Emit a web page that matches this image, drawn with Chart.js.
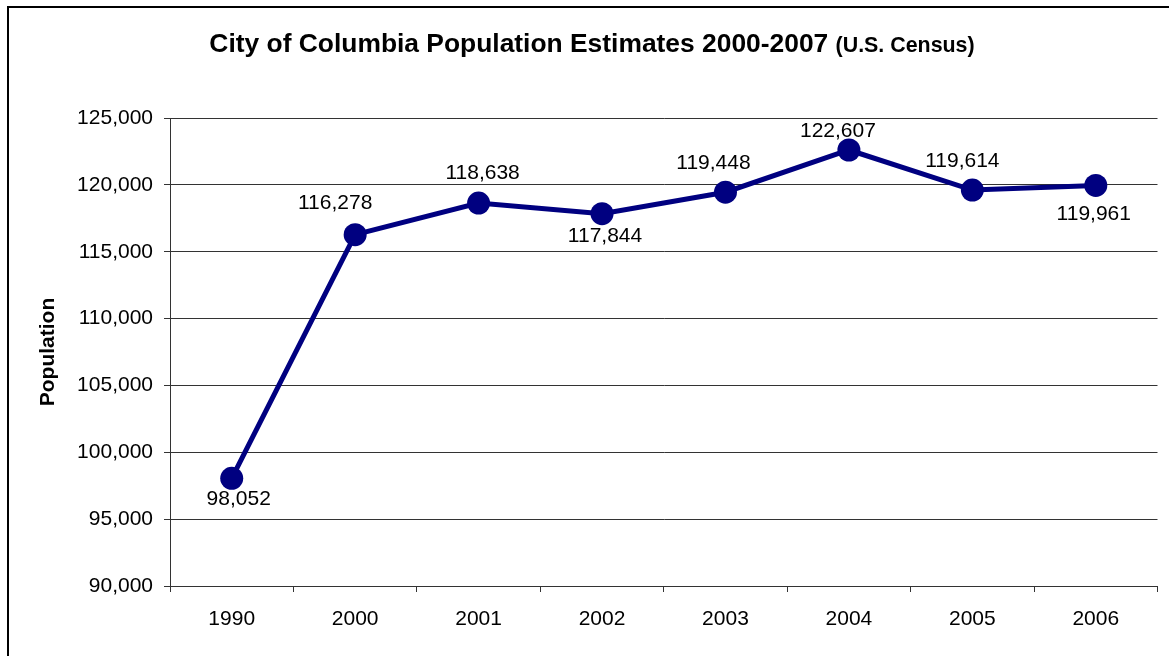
<!DOCTYPE html>
<html>
<head>
<meta charset="utf-8">
<script src="https://cdn.jsdelivr.net/npm/chart.js@4.4.1/dist/chart.umd.min.js"></script>
<style>
html,body{margin:0;padding:0;background:#fff;}
#wrap{width:1169px;height:656px;}
</style>
</head>
<body>
<div id="wrap"><canvas id="c" width="1169" height="656"></canvas></div>
<script>
// ---- data ----
const categories = ["1990","2000","2001","2002","2003","2004","2005","2006"];
const population = [98052,116278,118638,117844,119448,122607,119614,119961];
const yTicks = [90000,95000,100000,105000,110000,115000,120000,125000];
const titleMain = "City of Columbia Population Estimates 2000-2007";
const titleSub = "(U.S. Census)";
const yTitle = "Population";

// label placement (style only): [dx, dy] relative to point
const labelOffsets = [[7,21],[-20,-31],[4,-30],[3,23],[-12,-29],[-11,-19],[-10,-29],[-2,29]];

const FONT = "'Liberation Sans', Arial, sans-serif";
const fmt = v => v.toLocaleString('en-US');

const decor = {
  id: 'decor',
  beforeDraw(chart) {
    const ctx = chart.ctx;
    ctx.save();
    ctx.fillStyle = '#fff';
    ctx.fillRect(0, 0, chart.width, chart.height);
    ctx.strokeStyle = '#000';
    ctx.lineWidth = 2;
    ctx.beginPath();
    ctx.moveTo(8, chart.height + 2);
    ctx.lineTo(8, 7);
    ctx.lineTo(chart.width + 2, 7);
    ctx.stroke();
    ctx.restore();
  },
  afterDraw(chart) {
    const ctx = chart.ctx;
    ctx.save();
    ctx.fillStyle = '#000';
    ctx.textBaseline = 'alphabetic';
    const f1 = "bold 26.4px " + FONT, f2 = "bold 21.4px " + FONT;
    ctx.font = f1;
    const w1 = ctx.measureText(titleMain + " ").width;
    ctx.font = f2;
    const w2 = ctx.measureText(titleSub).width;
    const x0 = 592 - (w1 + w2) / 2;
    ctx.textAlign = 'left';
    ctx.font = f1;
    ctx.fillText(titleMain, x0, 52);
    ctx.font = f2;
    ctx.fillText(titleSub, x0 + w1, 52);
    ctx.save();
    ctx.translate(48, 352);
    ctx.rotate(-Math.PI / 2);
    ctx.textAlign = 'center';
    ctx.textBaseline = 'middle';
    ctx.font = "bold 21px " + FONT;
    ctx.fillText(yTitle, 0, 0);
    ctx.restore();
    const meta = chart.getDatasetMeta(0);
    ctx.font = "21px " + FONT;
    ctx.textAlign = 'center';
    ctx.textBaseline = 'middle';
    meta.data.forEach((pt, i) => {
      const o = labelOffsets[i];
      ctx.fillText(fmt(population[i]), pt.x + o[0], pt.y + o[1]);
    });
    ctx.restore();
  }
};

new Chart(document.getElementById('c'), {
  type: 'line',
  data: {
    labels: categories,
    datasets: [{
      data: population,
      borderColor: '#000080',
      backgroundColor: '#000080',
      borderWidth: 5,
      pointRadius: 11.5,
      pointHoverRadius: 11.5,
      pointBorderWidth: 0,
      pointHoverBorderWidth: 0,
      pointBackgroundColor: '#000080',
      pointBorderColor: '#000080',
      tension: 0,
      clip: false
    }]
  },
  options: {
    responsive: false,
    animation: false,
    events: [],
    layout: { padding: { top: 118, left: 0, right: 11, bottom: 0 } },
    plugins: { legend: { display: false }, title: { display: false }, tooltip: { enabled: false } },
    scales: {
      x: {
        offset: true,
        afterFit(s) { s.height = 70; },
        grid: { offset: true, drawOnChartArea: false, drawTicks: true, tickLength: 6, color: '#333', lineWidth: 1 },
        border: { display: true, color: '#333', width: 1 },
        ticks: { color: '#000', font: { family: FONT, size: 21 }, padding: 15, maxRotation: 0 }
      },
      y: {
        min: 90000, max: 125000,
        afterFit(s) { s.width = 170; },
        afterBuildTicks(s) { s.ticks = yTicks.map(v => ({ value: v })); },
        grid: { color: '#333', lineWidth: 1, tickLength: 6, drawTicks: true },
        border: { display: true, color: '#333', width: 1 },
        ticks: { color: '#000', font: { family: FONT, size: 21 }, padding: 11, callback: v => fmt(v) }
      }
    }
  },
  plugins: [decor]
});
</script>
</body>
</html>
